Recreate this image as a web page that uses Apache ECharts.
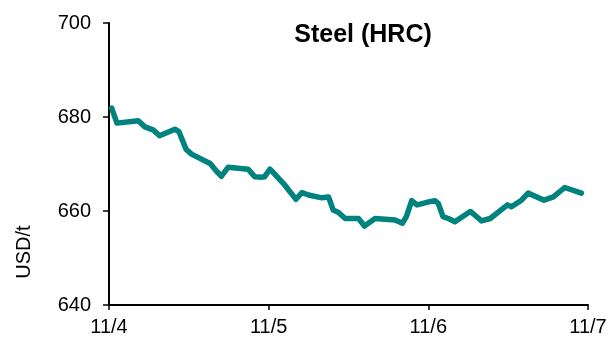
<!DOCTYPE html>
<html><head><meta charset="utf-8">
<script src="https://cdn.jsdelivr.net/npm/echarts@6/dist/echarts.min.js"></script>
<style>html,body{margin:0;padding:0;background:#fff}#c{width:614px;height:338px}</style>
</head><body><div id="c"></div>
<script>
const title = "Steel (HRC)";
const yAxisName = "USD/t";
const xTickLabels = ["11/4", "11/5", "11/6", "11/7"];
const yTicks = [640, 660, 680, 700];
// hours since 11/4 00:00
const hours = [0.4, 1.2, 4.4, 5.4, 6.7, 7.6, 9.9, 10.5, 11.6, 12.4, 15.2, 16.2, 16.9, 17.9, 20.9, 21.9, 23.0, 23.4, 24.2, 26.2, 28.1, 29.0, 30.0, 32.0, 33.0, 33.7, 34.5, 35.5, 37.5, 38.4, 40.0, 43.0, 44.1, 44.7, 45.5, 46.3, 48.2, 49.0, 49.5, 50.2, 51.0, 52.0, 54.3, 55.0, 56.0, 57.3, 59.9, 60.5, 62.0, 63.0, 65.4, 66.8, 68.5, 71.0];
const prices = [681.9, 678.7, 679.2, 677.9, 677.2, 676.0, 677.4, 676.9, 673.1, 672.1, 670.1, 668.4, 667.4, 669.3, 668.9, 667.3, 667.2, 667.3, 668.9, 665.9, 662.5, 663.9, 663.4, 662.8, 663.0, 660.2, 659.7, 658.4, 658.4, 656.8, 658.4, 658.1, 657.4, 658.8, 662.2, 661.3, 662.0, 662.2, 661.6, 658.8, 658.4, 657.7, 659.9, 659.1, 657.9, 658.4, 661.3, 660.9, 662.3, 663.8, 662.3, 663.0, 665.0, 663.8];

const chart = echarts.init(document.getElementById('c'), null, {renderer: 'canvas'});
const font = '"Liberation Sans", Arial, sans-serif';
chart.setOption({
  animation: false,
  backgroundColor: '#fff',
  grid: {left: 109, right: 26, top: 23, bottom: 33},
  xAxis: {
    type: 'value', min: 0, max: 72, interval: 24,
    axisLine: {show: true, lineStyle: {color: '#000', width: 2}},
    axisTick: {show: true, length: 5, lineStyle: {color: '#000', width: 1.5}},
    axisLabel: {fontFamily: font, fontSize: 20, color: '#000', margin: 12,
      formatter: v => xTickLabels[Math.round(v / 24)] || ''},
    splitLine: {show: false}
  },
  yAxis: {
    type: 'value', min: yTicks[0], max: yTicks[yTicks.length - 1], interval: 20,
    axisLine: {show: true, lineStyle: {color: '#000', width: 2}},
    axisTick: {show: true, length: 6, lineStyle: {color: '#000', width: 1.5}},
    axisLabel: {fontFamily: font, fontSize: 20, color: '#000', margin: 18},
    splitLine: {show: false}
  },
  graphic: [{
    type: 'text', x: 363, y: 35.5,
    style: {text: title, fontFamily: font, fontSize: 25, fontWeight: 'bold', fill: '#000',
      align: 'center', verticalAlign: 'middle'}
  }, {
    type: 'text', x: 24, y: 252, rotation: Math.PI / 2,
    style: {text: yAxisName, fontFamily: font, fontSize: 20, fill: '#000',
      align: 'center', verticalAlign: 'middle'}
  }],
  series: [{
    type: 'line', showSymbol: false, symbol: 'none',
    data: hours.map((h, i) => [h, prices[i]]),
    lineStyle: {color: '#00827E', width: 5.5, join: 'round', cap: 'round'}
  }]
});
</script></body></html>
